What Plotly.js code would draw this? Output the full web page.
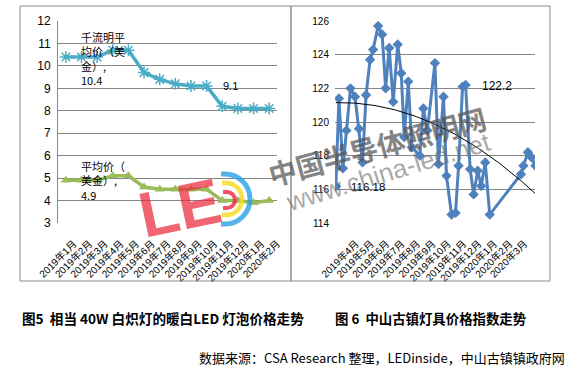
<!DOCTYPE html>
<html><head><meta charset="utf-8">
<script src="https://cdn.plot.ly/plotly-3.0.1.min.js"></script>
<style>html,body{margin:0;padding:0;background:#fff}#chart{width:576px;height:372px}</style>
</head><body><div id="chart"></div>
<script>
// ---- Left chart data (图5) ----
const leftMonths = ['2019年1月','2019年2月','2019年3月','2019年4月','2019年5月','2019年6月','2019年7月','2019年8月','2019年9月','2019年10月','2019年11月','2019年12月','2020年1月','2020年2月'];
const lumenPrice = [10.4,10.4,10.4,10.7,10.7,9.7,9.4,9.2,9.1,9.1,8.2,8.1,8.1,8.1];
const avgPrice   = [4.9,4.9,4.9,5.1,5.1,4.6,4.5,4.5,4.5,4.5,4.0,4.0,3.9,4.0];
const lumenName = '千流明平均价（美金）';
const avgName = '平均价（美金）';

// ---- Right chart data (图6) ----
const indexDates = ['2019-02-26','2019-03-04','2019-03-12','2019-03-19','2019-03-27','2019-04-05','2019-04-13','2019-04-20','2019-04-27','2019-05-05','2019-05-11','2019-05-21','2019-05-29','2019-06-05','2019-06-12','2019-06-20','2019-06-29','2019-07-06','2019-07-12','2019-07-20','2019-07-27','2019-08-12','2019-08-19','2019-08-27','2019-09-11','2019-09-18','2019-09-28','2019-10-04','2019-10-14','2019-10-22','2019-10-28','2019-11-05','2019-11-11','2019-11-20','2019-11-27','2019-12-05','2019-12-12','2019-12-20','2019-12-29','2020-02-29','2020-03-05','2020-03-14','2020-03-21','2020-03-29'];
const indexValues = [116.18,121.4,117.25,119.5,122.0,121.5,119.6,117.6,121.6,123.7,124.3,125.7,125.2,122.0,124.4,121.2,124.6,122.9,119.1,122.4,118.5,118.0,120.8,119.5,123.5,117.5,121.5,116.8,114.5,114.6,117.4,122.1,122.2,117.2,115.7,117.1,116.2,117.6,114.5,116.9,117.4,118.2,117.9,117.4];
const rightTickDates = ['2019-04-01','2019-05-01','2019-06-01','2019-07-01','2019-08-01','2019-09-01','2019-10-01','2019-11-01','2019-12-01','2020-01-01','2020-02-01','2020-03-01'];
const rightTickLabels = ['2019年4月','2019年5月','2019年6月','2019年7月','2019年8月','2019年9月','2019年10月','2019年11月','2019年12月','2020年1月','2020年2月','2020年3月'];

// quadratic least-squares trendline over the index series
const DAY = 86400000;
const t0 = Date.parse(indexDates[0]);
const tx = indexDates.map(d => (Date.parse(d) - t0) / DAY / 100);
function polyfit2(xs, ys) {
  const S = [0,0,0,0,0], T = [0,0,0];
  xs.forEach((x, i) => { for (let k = 0; k < 5; k++) S[k] += Math.pow(x, k); for (let k = 0; k < 3; k++) T[k] += Math.pow(x, k) * ys[i]; });
  const M = [[S[0],S[1],S[2],T[0]],[S[1],S[2],S[3],T[1]],[S[2],S[3],S[4],T[2]]];
  for (let c = 0; c < 3; c++) {
    for (let r = c + 1; r < 3; r++) { const f = M[r][c] / M[c][c]; for (let k = c; k < 4; k++) M[r][k] -= f * M[c][k]; }
  }
  const s = [0,0,0];
  for (let r = 2; r >= 0; r--) { let v = M[r][3]; for (let k = r + 1; k < 3; k++) v -= M[r][k] * s[k]; s[r] = v / M[r][r]; }
  return s; // c0, c1, c2
}
const coef = polyfit2(tx, indexValues);
const trendX = [], trendY = [];
for (let x = 0; x <= tx[tx.length - 1] + 1e-9; x += 0.04) {
  trendX.push(new Date(t0 + x * 100 * DAY).toISOString().slice(0, 10));
  trendY.push(coef[0] + coef[1] * x + coef[2] * x * x);
}

const FONT = 'Liberation Sans, Arial, Noto Sans CJK SC, sans-serif';
const CJK = 'Noto Sans CJK SC, sans-serif';
const W = 576, H = 372;
const px = x => x / W, py = y => 1 - y / H;
const P = (x, y) => px(x).toFixed(4) + ',' + py(y).toFixed(4);
function arcPath(cx, cy, r) {
  const k = 0.5523 * r;
  return 'M' + P(cx - 4, cy - r) + ' L' + P(cx, cy - r) + ' C' + P(cx + k, cy - r) + ' ' + P(cx + r, cy - k) + ' ' + P(cx + r, cy) +
         ' C' + P(cx + r, cy + k) + ' ' + P(cx + k, cy + r) + ' ' + P(cx, cy + r) + ' L' + P(cx - 4, cy + r);
}

const traces = [
  { x: leftMonths, y: lumenPrice, type: 'scatter', mode: 'lines+markers', name: lumenName,
    line: { color: '#4BACC6', width: 3.5 }, marker: { symbol: 'asterisk-open', size: 10, color: '#4BACC6', line: { color: '#4BACC6', width: 1.5 } },
    xaxis: 'x', yaxis: 'y' },
  { x: leftMonths, y: avgPrice, type: 'scatter', mode: 'lines+markers', name: avgName,
    line: { color: '#9BBB59', width: 3.5 }, marker: { symbol: 'triangle-up', size: 9, color: '#9BBB59' },
    xaxis: 'x', yaxis: 'y' },
  { x: indexDates, y: indexValues, type: 'scatter', mode: 'lines+markers', name: '价格指数',
    line: { color: '#4F81BD', width: 3 }, marker: { symbol: 'diamond', size: 8, color: '#4F81BD' },
    xaxis: 'x2', yaxis: 'y2' },
  { x: trendX, y: trendY, type: 'scatter', mode: 'lines', name: '趋势线',
    line: { color: '#000', width: 1 }, xaxis: 'x2', yaxis: 'y2' }
];

const grid = '#868686';
const annotations = [
  { xref: 'x', yref: 'y', x: leftMonths[2], y: lumenPrice[2], text: '千流明平<br>均价（美<br>金）,<br>' + lumenPrice[2].toFixed(1),
    showarrow: false, xanchor: 'left', align: 'left', xshift: -18, yshift: -2, font: { family: CJK, size: 11, color: '#000' } },
  { xref: 'x', yref: 'y', x: leftMonths[9], y: lumenPrice[9], text: lumenPrice[9].toFixed(1),
    showarrow: false, xanchor: 'left', xshift: 14, yshift: 0, font: { family: FONT, size: 11, color: '#000' } },
  { xref: 'x', yref: 'y', x: leftMonths[2], y: avgPrice[2], text: '平均价（<br>美金）,<br>' + avgPrice[2].toFixed(1),
    showarrow: false, xanchor: 'left', align: 'left', xshift: -18, yshift: 0, font: { family: CJK, size: 11, color: '#000' } },
  { xref: 'x2', yref: 'y2', x: indexDates[0], y: indexValues[0], text: String(indexValues[0]),
    showarrow: false, xanchor: 'left', xshift: 13, yshift: -1, font: { family: FONT, size: 11.5, color: '#000' } },
  { xref: 'x2', yref: 'y2', x: indexDates[32], y: indexValues[32], text: indexValues[32].toFixed(1),
    showarrow: false, xanchor: 'left', xshift: 14, yshift: -1, font: { family: FONT, size: 12, color: '#000' } },
  // watermark
  { xref: 'paper', yref: 'paper', x: px(180), y: py(208), xanchor: 'center', yanchor: 'middle', text: '<b>LE</b>', showarrow: false, textangle: -12,
    font: { family: FONT, size: 64, color: 'rgba(236,40,60,0.72)' } },
  { xref: 'paper', yref: 'paper', x: px(377), y: py(146), xanchor: 'center', yanchor: 'middle', text: '<b>中国半导体照明网</b>', showarrow: false, textangle: -15,
    font: { family: CJK, size: 28, color: 'rgba(85,85,85,0.72)' } },
  { xref: 'paper', yref: 'paper', x: px(388), y: py(172), xanchor: 'center', yanchor: 'middle', text: 'www.china-led.net', showarrow: false, textangle: -17,
    font: { family: FONT, size: 26, color: 'rgba(110,110,110,0.6)' } },
  // captions
  { xref: 'paper', yref: 'paper', x: px(20), y: py(318), xanchor: 'left', yanchor: 'middle', showarrow: false,
    text: '<b>图5  相当 40W 白炽灯的暖白LED 灯泡价格走势</b>', font: { family: CJK, size: 13.6, color: '#000' } },
  { xref: 'paper', yref: 'paper', x: px(333), y: py(318), xanchor: 'left', yanchor: 'middle', showarrow: false,
    text: '<b>图 6  中山古镇灯具价格指数走势</b>', font: { family: CJK, size: 13.4, color: '#000' } },
  { xref: 'paper', yref: 'paper', x: px(567), y: py(357), xanchor: 'right', yanchor: 'middle', showarrow: false,
    text: '数据来源：CSA Research 整理，LEDinside，中山古镇镇政府网', font: { family: CJK, size: 13, color: '#000' } }
];

const shapes = [
  { type: 'rect', xref: 'paper', yref: 'paper', x0: px(20), x1: px(291), y0: py(281), y1: py(6), line: { color: '#8c8c8c', width: 1 } },
  { type: 'rect', xref: 'paper', yref: 'paper', x0: px(291), x1: px(550), y0: py(281), y1: py(6), line: { color: '#8c8c8c', width: 1 } },
  { type: 'path', xref: 'paper', yref: 'paper', path: arcPath(225, 199, 25), line: { color: 'rgba(40,160,230,0.8)', width: 5 } },
  { type: 'path', xref: 'paper', yref: 'paper', path: arcPath(226, 199, 16), line: { color: 'rgba(250,220,40,0.85)', width: 4.5 } },
  { type: 'path', xref: 'paper', yref: 'paper', path: arcPath(227, 200, 8), line: { color: 'rgba(236,40,60,0.8)', width: 4 } }
];

const layout = {
  width: W, height: H, margin: { l: 0, r: 0, t: 0, b: 0 },
  paper_bgcolor: '#fff', plot_bgcolor: 'rgba(0,0,0,0)', showlegend: false,
  font: { family: FONT, color: '#000' },
  xaxis: { domain: [px(58), px(277)], type: 'category', range: [-0.5, 13.5], anchor: 'y',
    tickangle: -45, tickfont: { family: FONT, size: 10, color: '#000' }, showgrid: false, showline: false, zeroline: false,
    ticks: '', ticklabelstandoff: 12, ticklabelshift: 8, automargin: false },
  yaxis: { domain: [py(223), py(21)], range: [3, 12], dtick: 1, tick0: 0, anchor: 'x',
    gridcolor: grid, gridwidth: 1, showline: true, linecolor: grid, linewidth: 1, zeroline: false, ticks: '',
    tickfont: { family: FONT, size: 12, color: '#000' }, ticklabelstandoff: 4, automargin: false },
  xaxis2: { domain: [px(335), px(535)], type: 'date', range: ['2019-02-24 06:00', '2020-03-28'], anchor: 'y2',
    tickmode: 'array', tickvals: rightTickDates, ticktext: rightTickLabels,
    tickangle: -45, tickfont: { family: FONT, size: 10, color: '#000' }, showgrid: false, showline: false, zeroline: false,
    ticks: '', ticklabelstandoff: 12, ticklabelshift: 3, automargin: false },
  yaxis2: { domain: [py(223), py(21)], range: [114, 126], dtick: 2, tick0: 0, anchor: 'x2',
    gridcolor: grid, gridwidth: 1, showline: false, zeroline: false, ticks: '',
    tickfont: { family: FONT, size: 10, color: '#000' }, ticklabelstandoff: 5, automargin: false },
  annotations: annotations, shapes: shapes
};

Plotly.newPlot('chart', traces, layout, { staticPlot: true, displayModeBar: false });
</script>
</body></html>
